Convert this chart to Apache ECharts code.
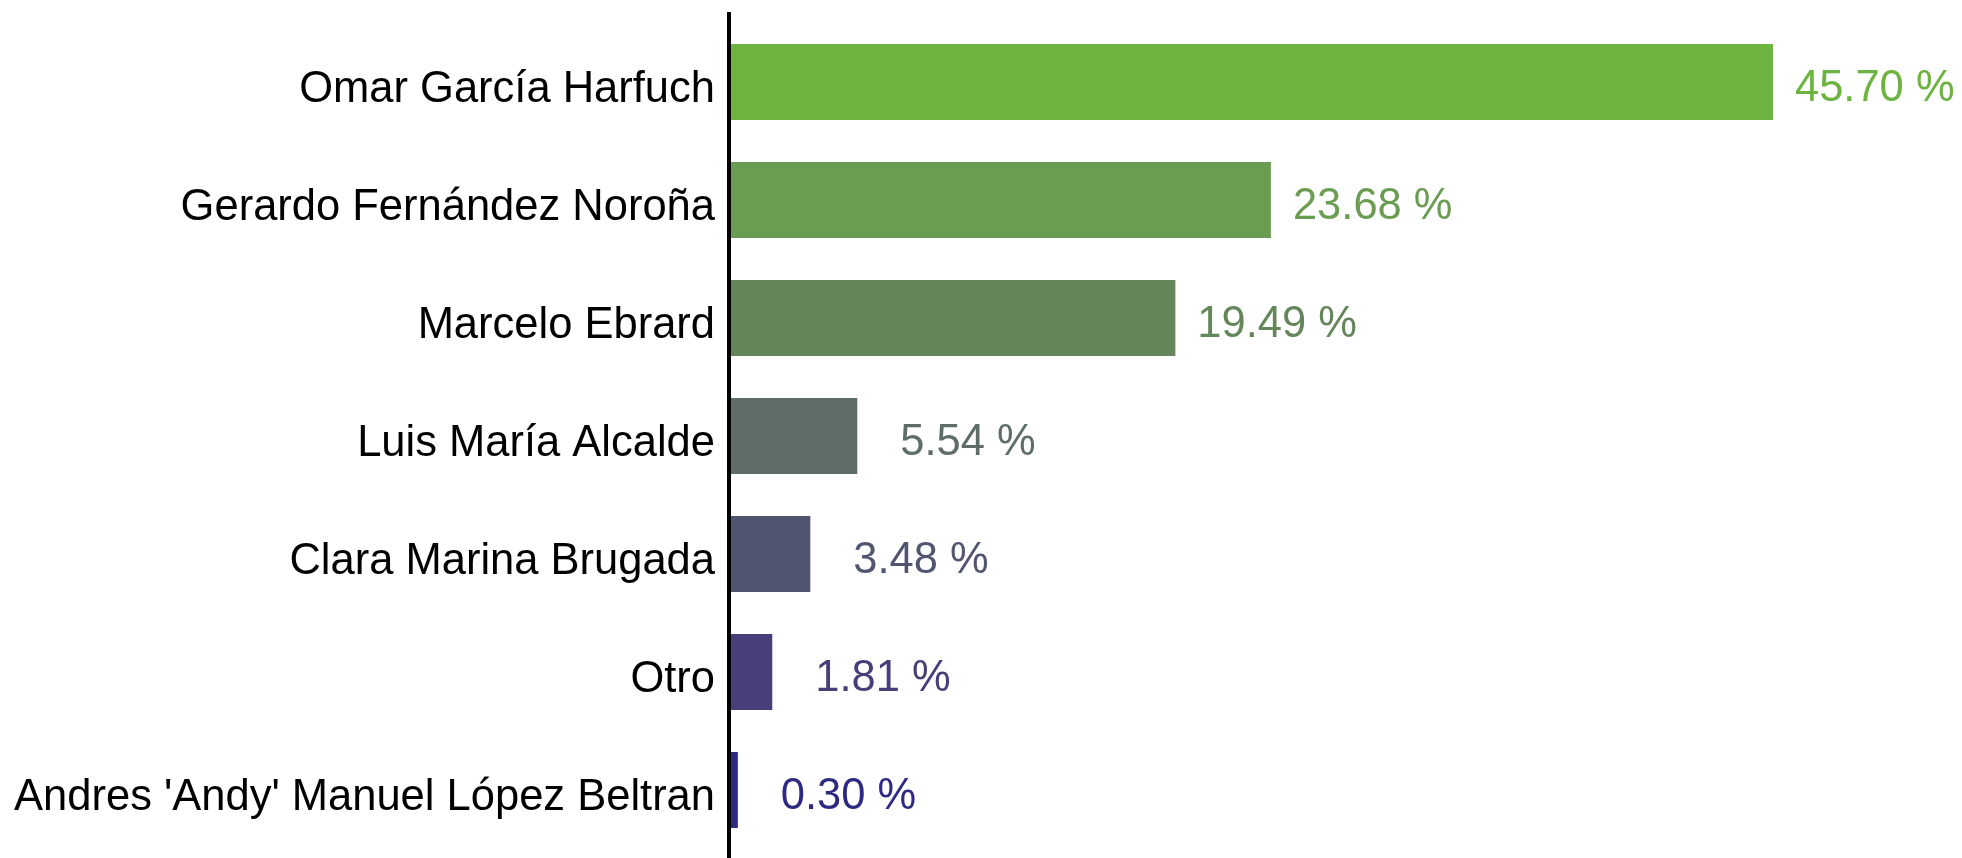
<!DOCTYPE html>
<html>
<head>
	<meta charset="utf-8">
	<title>Encuesta</title>
	<style>
		html, body { margin: 0; padding: 0; background: #fff; }
		#chart { width: 1962px; height: 858px; }
	</style>
</head>
<body>
	<div id="chart"></div>
	<script src="https://cdn.jsdelivr.net/npm/echarts@6/dist/echarts.min.js"></script>
	<script type="text/javascript">
		var candidates = [
			'Omar García Harfuch',
			'Gerardo Fernández Noroña',
			'Marcelo Ebrard',
			'Luis María Alcalde',
			'Clara Marina Brugada',
			'Otro',
			"Andres 'Andy' Manuel López Beltran"
		];
		var shares = [45.70, 23.68, 19.49, 5.54, 3.48, 1.81, 0.30];
		var barColors = ['#6db33f', '#6a9c52', '#65865b', '#5e6e66', '#52556f', '#463f78', '#2e2a82'];

		var myChart = echarts.init(document.getElementById('chart'));

		var font = '"Liberation Sans", Arial, sans-serif';

		// big bars keep the label close, small ones push it further out
		var data = shares.map(function (v, i) {
			return {
				value: v,
				itemStyle: { color: barColors[i] },
				label: {
					color: barColors[i],
					distance: v > 10 ? 22 : 43
				}
			};
		});

		var option = {
			animation: false,
			grid: {
				left: 731,
				right: 91,
				top: 23,
				bottom: 9
			},
			xAxis: {
				type: 'value',
				min: 0,
				max: 50,
				show: false
			},
			yAxis: {
				type: 'category',
				data: candidates,
				inverse: true,
				axisLine: { show: false },
				axisTick: { show: false },
				axisLabel: {
					margin: 16,
					formatter: function (v) {
						return '{n|' + v + '}';
					},
					rich: {
						n: {
							color: '#000',
							fontSize: 43.5,
							fontFamily: font,
							padding: [15, 0, 0, 0]
						}
					}
				}
			},
			series: [{
				type: 'bar',
				data: data,
				barCategoryGap: '35.6%',
				label: {
					show: true,
					position: 'right',
					fontSize: 43.5,
					fontFamily: font,
					offset: [0, 7],
					formatter: function (p) {
						return p.value.toFixed(2) + ' %';
					}
				}
			}]
		};

		myChart.setOption(option);

		// axis line runs past the plot area, top to bottom of the page
		var x0 = myChart.convertToPixel({ xAxisIndex: 0 }, 0);
		myChart.setOption({
			graphic: [{
				type: 'line',
				shape: { x1: x0 - 2, y1: 12, x2: x0 - 2, y2: 858 },
				style: { stroke: '#000', lineWidth: 4 },
				z: 10
			}]
		});
	</script>
</body>
</html>
